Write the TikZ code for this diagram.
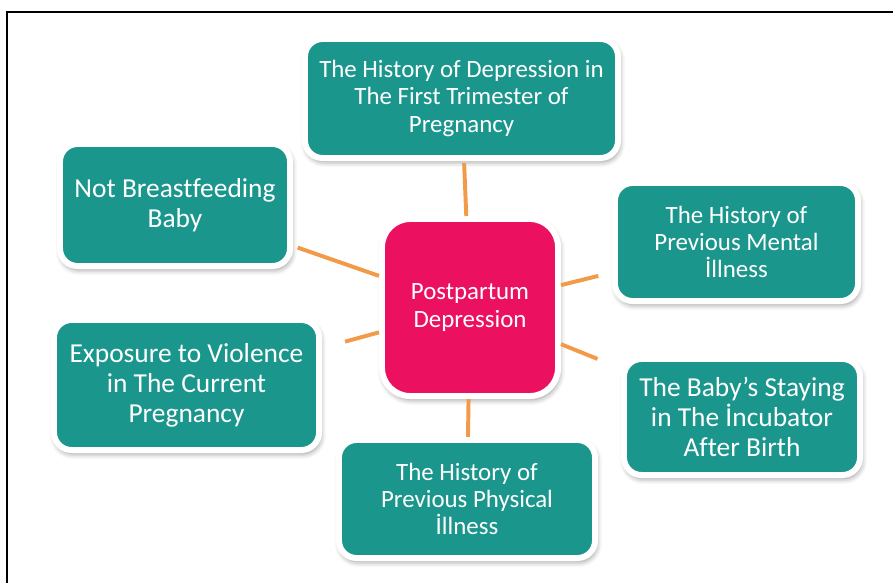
\documentclass[tikz,border=0pt]{standalone}
\usepackage{fontspec}
\setmainfont[Ligatures=NoCommon]{Carlito}
\usetikzlibrary{shadows.blur}
\definecolor{riskteal}{RGB}{26,150,140}
\definecolor{ppdpink}{RGB}{236,17,96}
\definecolor{linkorange}{RGB}{242,154,72}

\tikzset{
  factor/.style={fill=riskteal, draw=white, line width=4.25pt, rounded corners=12.5pt,
    text=white, align=center, inner sep=0pt,
    blur shadow={shadow xshift=1pt, shadow yshift=-2.5pt, shadow blur radius=4pt, shadow opacity=45}},
  bigtext/.style={font=\fontsize{19.5}{21.4}\selectfont},
  smalltext/.style={font=\fontsize{17.7}{19.5}\selectfont},
  link/.style={draw=linkorange, line width=2.8pt},
}

\begin{document}
\begin{tikzpicture}[x=0.025cm, y=-0.025cm]
\useasboundingbox (0,0) rectangle (893,583);
% frame
\draw[line width=0.8pt] (7,583) |- (893,12);

% centre
\node[factor, fill=ppdpink, rounded corners=20pt, smalltext, minimum width=4.4cm, minimum height=4.425cm] (ppd) at (470,307.5) {Postpartum\\Depression};

% risk factors
\node[factor, smalltext, minimum width=7.825cm, minimum height=2.975cm] (depression) at (461.5,98.5) {The History of Depression in\\The First Trimester of\\Pregnancy};
\node[factor, bigtext, minimum width=5.75cm, minimum height=3.05cm] (breastfeeding) at (175,205) {Not Breastfeeding\\Baby};
\node[factor, smalltext, minimum width=6.075cm, minimum height=2.95cm] (mental) at (736.5,242) {The History of\\Previous Mental\\İllness};
\node[factor, bigtext, minimum width=5.9cm, minimum height=2.9cm] (incubator) at (742,417) {The Baby’s Staying\\in The İncubator\\After Birth};
\node[factor, bigtext, minimum width=6.625cm, minimum height=3.25cm] (violence) at (186.5,385) {Exposure to Violence\\in The Current\\Pregnancy};
\node[factor, smalltext, minimum width=6.4cm, minimum height=2.95cm] (physical) at (467,499) {The History of\\Previous Physical\\İllness};

% links
\draw[link, shorten >=1.4pt] (ppd) -- (depression);
\draw[link, shorten >=3.5pt] (ppd) -- (breastfeeding);
\draw[link, shorten >=10pt] (ppd) -- (mental);
\draw[link, shorten >=18pt] (ppd) -- (incubator);
\draw[link, shorten >=17pt] (ppd) -- (violence);
\draw[link] (ppd) -- (physical);
\end{tikzpicture}
\end{document}
